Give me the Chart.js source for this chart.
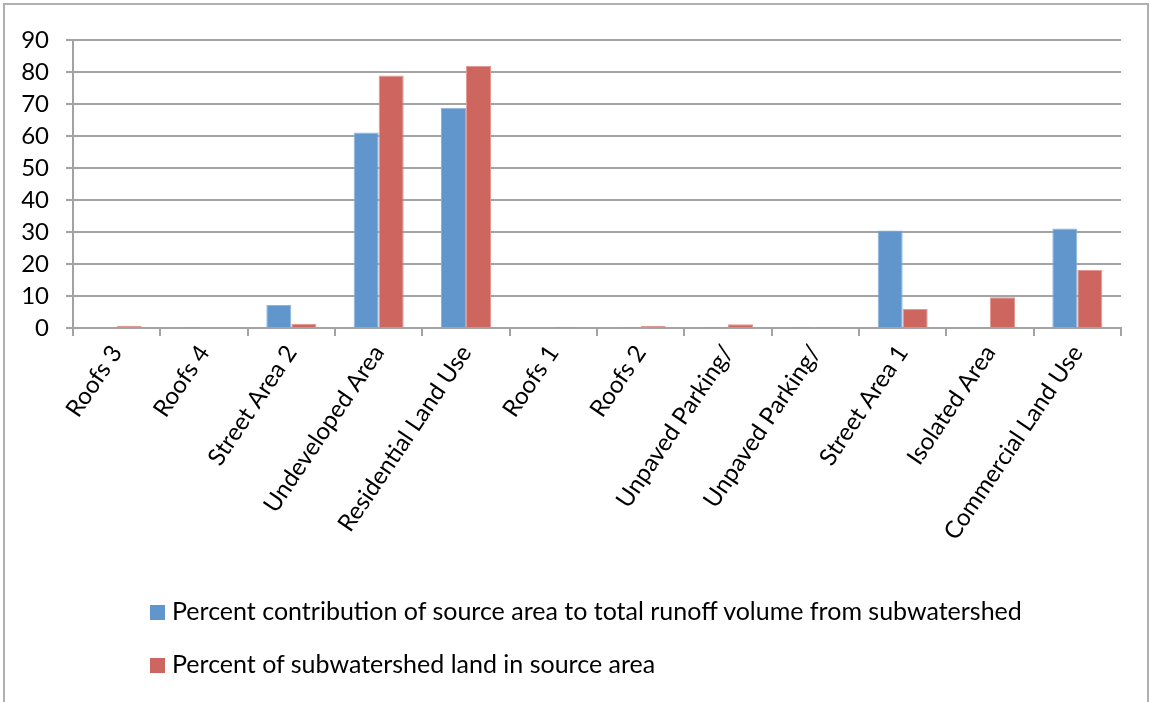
<html>
<head>
<script src="https://cdn.jsdelivr.net/npm/chart.js@4"></script>
<style>
  body { margin: 0; background: #fff; }
  #frame { position: absolute; left: 3px; top: 3px; width: 1146px; height: 720px; border: 2px solid #b0b0b0; box-sizing: border-box; }
  #wrap { position: absolute; left: 0; top: 0; width: 1151px; height: 702px; }
  .leg { position: absolute; left: 150px; font-family: Lato, sans-serif; font-size: 25px; color: #000; line-height: 25px; }
  .leg span.box { display: inline-block; width: 15px; height: 15px; margin-right: 7px; vertical-align: 0px; }
</style>
</head>
<body>
<div id="frame"></div>
<div id="wrap"><canvas id="myChart" width="1151" height="702"></canvas></div>
<div class="leg" id="leg1" style="top:598px"><span class="box" style="background:#6096cb"></span><span id="t1"></span></div>
<div class="leg" id="leg2" style="top:651px"><span class="box" style="background:#cd665e"></span><span id="t2"></span></div>

<script>
// source areas
var categories = ['Roofs 3', 'Roofs 4', 'Street Area 2', 'Undeveloped Area', 'Residential Land Use',
    'Roofs 1', 'Roofs 2', 'Unpaved Parking/', 'Unpaved Parking/', 'Street Area 1', 'Isolated Area', 'Commercial Land Use'];

var runoffName = 'Percent contribution of source area to total runoff volume from subwatershed';
var runoffPct = [0, 0.1, 7.2, 61.1, 68.8, 0, 0.1, 0.2, 0.1, 30.5, 0, 31.1];

var landName = 'Percent of subwatershed land in source area';
var landPct = [0.7, 0.3, 1.3, 78.9, 81.9, 0.1, 0.6, 1.2, 0.1, 5.9, 9.6, 18.1];

var yTicks = [0, 10, 20, 30, 40, 50, 60, 70, 80, 90];

document.getElementById('t1').textContent = runoffName;
document.getElementById('t2').textContent = landName;

var font = { family: 'Lato, sans-serif', size: 24 };
var gridCol = '#a3a3a3';

var ctx = document.getElementById('myChart').getContext('2d');
var chart = new Chart(ctx, {
    type: 'bar',
    data: {
        labels: categories,
        datasets: [{
            label: runoffName,
            backgroundColor: '#6096cb',
            borderColor: '#8db4dd',
            borderWidth: 1,
            data: runoffPct
        }, {
            label: landName,
            backgroundColor: '#cd665e',
            borderColor: '#e39891',
            borderWidth: 1,
            data: landPct
        }]
    },
    options: {
        responsive: false,
        animation: false,
        layout: { padding: { left: 0, top: 40, right: 30, bottom: 0 } },
        plugins: { legend: { display: false }, tooltip: { enabled: false } },
        datasets: { bar: { categoryPercentage: 0.573, barPercentage: 1 } },
        scales: {
            x: {
                grid: { display: true, drawOnChartArea: false, tickLength: 8, color: gridCol, lineWidth: 2 },
                border: { color: gridCol, width: 2 },
                ticks: { color: '#000', font: font, minRotation: 56, maxRotation: 56, autoSkip: false, padding: 4 },
                afterFit: function (s) { s.height = 702 - 328; }
            },
            y: {
                min: 0, max: 90,
                afterBuildTicks: function (s) { s.ticks = yTicks.map(function (v) { return { value: v }; }); },
                grid: { color: gridCol, lineWidth: 2, tickLength: 7 },
                border: { color: gridCol, width: 2 },
                ticks: { color: '#000', font: font, padding: 17 },
                afterFit: function (s) { s.width = 73; }
            }
        }
    }
});
</script>
</body>
</html>
